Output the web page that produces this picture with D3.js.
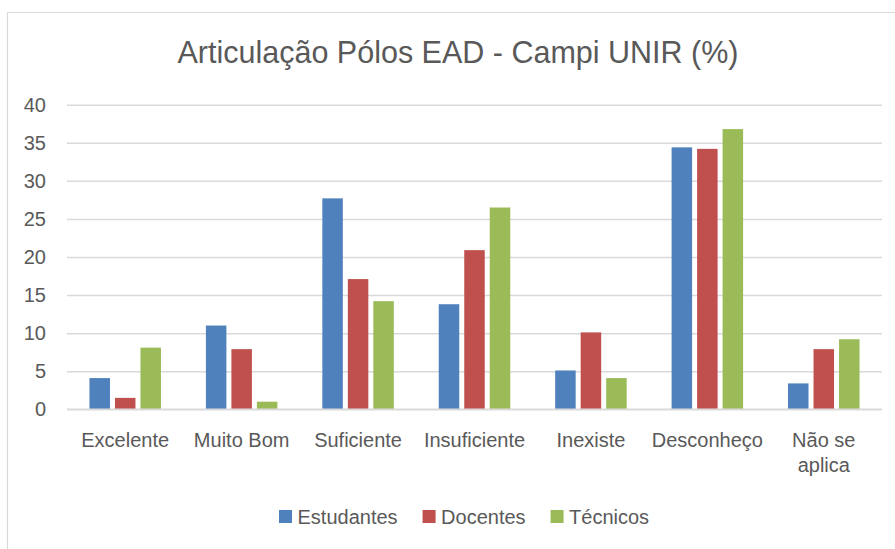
<!DOCTYPE html>
<html>
<head>
<meta charset="utf-8">
<script src="https://cdn.jsdelivr.net/npm/d3@7"></script>
<style>
  body { margin: 0; background: #fff; }
  svg { display: block; font-family: "Liberation Sans", Arial, sans-serif; }
</style>
</head>
<body>
<svg width="895" height="549"></svg>
<script>
// dados do gráfico
var categorias = ["Excelente", "Muito Bom", "Suficiente", "Insuficiente", "Inexiste", "Desconheço", "Não se aplica"];
var series = ["Estudantes", "Docentes", "Técnicos"];
var estudantes = [4.1, 11.0, 27.7, 13.8, 5.1, 34.4, 3.4];
var docentes = [1.5, 7.9, 17.1, 20.9, 10.1, 34.2, 7.9];
var tecnicos = [8.1, 1.0, 14.2, 26.5, 4.1, 36.8, 9.2];
var ticksY = [0, 5, 10, 15, 20, 25, 30, 35, 40];
var cores = ["#4f81bd", "#c0504d", "#9bbb59"];

var valores = [estudantes, docentes, tecnicos];
var data = categorias.map(function(c, i) {
  return { cat: c, vals: series.map(function(s, j) { return { serie: s, v: valores[j][i] }; }) };
});

var svg = d3.select("svg");
var corTexto = "#595959";

// moldura do gráfico (só topo e esquerda aparecem)
svg.append("line").attr("x1", 7.5).attr("x2", 895).attr("y1", 12.5).attr("y2", 12.5)
  .attr("stroke", "#d9d9d9").attr("stroke-width", 1.2);
svg.append("line").attr("x1", 7.5).attr("x2", 7.5).attr("y1", 12.5).attr("y2", 549)
  .attr("stroke", "#d9d9d9").attr("stroke-width", 1.2);

// título
svg.append("text")
  .attr("x", 458).attr("y", 63)
  .attr("text-anchor", "middle")
  .style("font-size", "30.5px")
  .style("fill", corTexto)
  .text("Articulação Pólos EAD - Campi UNIR (%)");

var plotLeft = 67, plotRight = 882, plotTop = 104.7, plotBottom = 409.3;

var x0 = d3.scaleBand().domain(categorias).range([plotLeft, plotRight]).padding(0);
var bw = x0.bandwidth();
var x1 = d3.scaleBand().domain(series).range([bw / 2 - 38.25, bw / 2 + 38.25]).padding(0);
var y = d3.scaleLinear().domain([0, 40]).range([plotBottom, plotTop]);

// grade
var eixoY = d3.axisLeft(y).tickValues(ticksY).tickSize(-(plotRight - plotLeft)).tickPadding(20);
var gy = svg.append("g").attr("transform", "translate(" + plotLeft + ",0)").call(eixoY);
gy.select(".domain").remove();
gy.selectAll(".tick line").attr("stroke", "#d9d9d9").attr("stroke-width", 1.5);
gy.selectAll(".tick text")
  .attr("x", -21)
  .style("font-size", "20px")
  .style("fill", corTexto)
  .style("font-family", "'Liberation Sans', Arial, sans-serif");

// barras
var grupos = svg.append("g").selectAll("g")
  .data(data)
  .enter().append("g")
  .attr("transform", function(d) { return "translate(" + x0(d.cat) + ",0)"; });

grupos.selectAll("rect")
  .data(function(d) { return d.vals; })
  .enter().append("rect")
  .attr("x", function(d) { return x1(d.serie) + 2.5; })
  .attr("width", x1.bandwidth() - 5)
  .attr("y", function(d) { return y(d.v); })
  .attr("height", function(d) { return y(0) - y(d.v); })
  .attr("fill", function(d, i) { return cores[i]; });

// linha do zero
svg.append("line").attr("x1", plotLeft).attr("x2", plotRight).attr("y1", y(0)).attr("y2", y(0))
  .attr("stroke", "#d9d9d9").attr("stroke-width", 1.5);

// rótulos das categorias (quebra "Não se aplica")
var rotulos = { "Não se aplica": ["Não se", "aplica"] };
svg.append("g").selectAll("text")
  .data(categorias)
  .enter().append("text")
  .attr("x", function(d) { return x0(d) + bw / 2; })
  .attr("y", 446.5)
  .attr("text-anchor", "middle")
  .style("font-size", "20px")
  .style("fill", corTexto)
  .each(function(d) {
    var linhas = rotulos[d] || [d];
    var t = d3.select(this);
    linhas.forEach(function(l, k) {
      t.append("tspan").attr("x", x0(d) + bw / 2).attr("dy", k === 0 ? 0 : 25).text(l);
    });
  });

// legenda
var legenda = svg.append("g").attr("transform", "translate(279,510)");
var posX = 0;
series.forEach(function(s, i) {
  var g = legenda.append("g").attr("transform", "translate(" + posX + ",0)");
  g.append("rect").attr("width", 13).attr("height", 13).attr("fill", cores[i]);
  var t = g.append("text").attr("x", 18.5).attr("y", 13.5)
    .style("font-size", "20px").style("fill", corTexto).text(s);
  posX += 18.5 + t.node().getComputedTextLength() + 25;
});
</script>
</body>
</html>
